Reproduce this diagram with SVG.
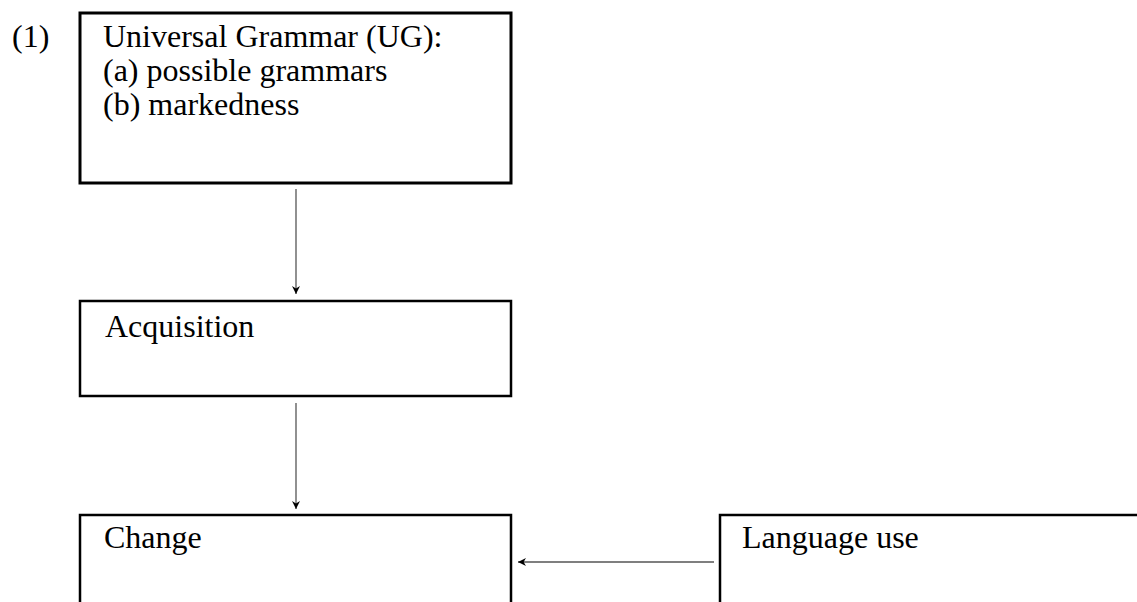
<svg xmlns="http://www.w3.org/2000/svg" width="1137" height="602" viewBox="0 0 1137 602">
<style>
.box{fill:#fff;stroke:#000;stroke-width:2.5}
.t{font-family:"Liberation Serif","Times New Roman",serif;font-size:32px;fill:#000}
.c{stroke:#555;stroke-width:1.3;fill:none;marker-end:url(#ah)}
</style>
<defs>
<marker id="ah" viewBox="0 0 10 10" refX="10" refY="5" markerWidth="9" markerHeight="8" markerUnits="userSpaceOnUse" orient="auto">
<path d="M0,0 L10,5 L0,10 L3,5 Z" fill="#000"/>
</marker>
</defs>
<rect width="1137" height="602" fill="#fff"/>
<text class="t" x="12" y="47">(1)</text>
<g id="ug">
<rect class="box" x="80" y="13" width="431" height="170" style="stroke-width:3"/>
<text class="t" x="103" y="47">Universal Grammar (UG):</text>
<text class="t" x="103" y="81">(a) possible grammars</text>
<text class="t" x="103" y="115">(b) markedness</text>
</g>
<g id="acquisition">
<rect class="box" x="80" y="301" width="431" height="95"/>
<text class="t" x="105" y="337">Acquisition</text>
</g>
<g id="change">
<rect class="box" x="80" y="515" width="431" height="100"/>
<text class="t" x="104" y="548">Change</text>
</g>
<g id="language-use">
<rect class="box" x="720" y="515" width="430" height="100"/>
<text class="t" x="742" y="548">Language use</text>
</g>
<g id="connectors">
<line class="c" x1="296" y1="189" x2="296" y2="294"/>
<line class="c" x1="296" y1="403" x2="296" y2="509"/>
<line class="c" x1="714" y1="562" x2="518" y2="562"/>
</g>
</svg>
